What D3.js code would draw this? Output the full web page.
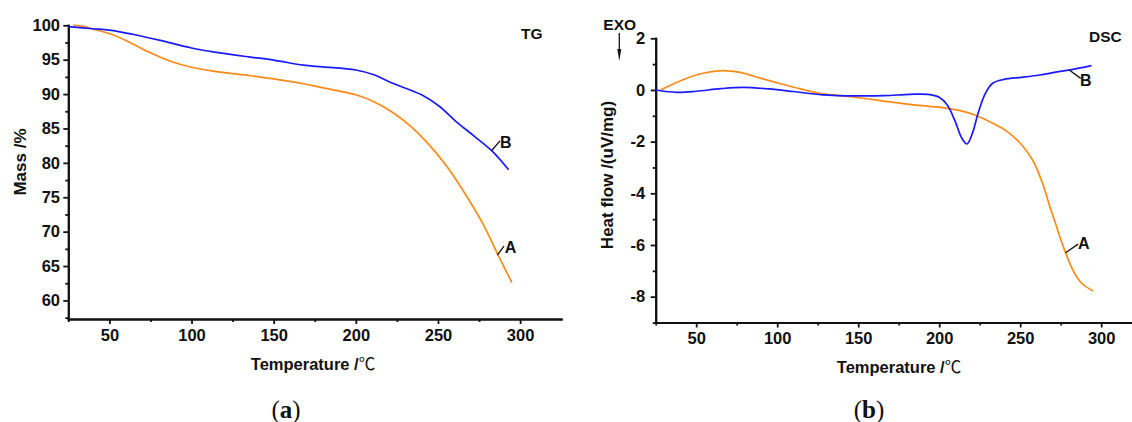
<!DOCTYPE html>
<html>
<head>
<meta charset="utf-8">
<script src="https://cdnjs.cloudflare.com/ajax/libs/d3/7.8.5/d3.min.js"></script>
<style>
  body { margin: 0; background: #fff; }
  svg text { font-family: "Liberation Sans", Arial, sans-serif; font-weight: bold; fill: #111; }
</style>
</head>
<body>
<script>
// Tick values shared by both panels
var xTicks = [50, 100, 150, 200, 250, 300],
    xMinor = [25, 75, 125, 175, 225, 275],
    tgTicks = [60, 65, 70, 75, 80, 85, 90, 95, 100],
    tgMinor = [57.5, 62.5, 67.5, 72.5, 77.5, 82.5, 87.5, 92.5, 97.5],
    dscTicks = [-8, -6, -4, -2, 0, 2],
    dscMinor = [-9, -7, -5, -3, -1, 1];

// TG curves (temperature in degC, mass in %)
var tgTempA = [28, 35, 40, 50, 60, 75, 88, 100, 114, 135, 150, 168, 180, 200, 211, 222, 233, 244, 255, 266, 277, 287, 295],
    tgMassA = [100.0, 99.8, 99.45, 98.8, 97.8, 96.0, 94.7, 93.9, 93.3, 92.7, 92.2, 91.5, 90.9, 89.9, 88.9, 87.4, 85.4, 82.8, 79.6, 75.7, 71.3, 66.4, 62.6];
var tgTempB = [25, 40, 50, 64, 81, 100, 114, 135, 150, 168, 180, 200, 211, 222, 240, 251, 261, 272, 283, 293],
    tgMassB = [99.8, 99.5, 99.3, 98.7, 97.8, 96.7, 96.1, 95.4, 94.95, 94.2, 93.95, 93.5, 92.8, 91.6, 89.9, 88.2, 86.0, 83.9, 81.7, 79.0];

// DSC curves (temperature in degC, heat flow in uV/mg)
var dscTempA = [28, 39, 50, 66, 77, 90, 101, 115, 128, 141, 153, 168, 184, 202, 213, 222, 233, 242, 251, 258, 264, 268, 272, 276.6, 283, 288, 295],
    dscFlowA = [0, 0.32, 0.58, 0.75, 0.68, 0.45, 0.26, 0.03, -0.15, -0.23, -0.32, -0.45, -0.58, -0.68, -0.8, -0.97, -1.29, -1.61, -2.13, -2.75, -3.65, -4.45, -5.2, -6.06, -7.03, -7.48, -7.78];
var dscTempB = [25, 38, 50, 65, 79, 95, 110, 128, 150, 166, 182, 193, 200, 205, 209.5, 214, 217.2, 220.5, 224, 228.5, 233, 240, 251, 262, 272, 281, 294],
    dscFlowB = [0, -0.09, -0.05, 0.05, 0.1, 0.04, -0.06, -0.19, -0.23, -0.22, -0.17, -0.17, -0.28, -0.58, -1.16, -1.87, -2.09, -1.68, -0.9, -0.13, 0.26, 0.41, 0.49, 0.58, 0.69, 0.78, 0.94];

var colorA = "#ff8a16", colorB = "#1a1aff";

var svg = d3.select("body").append("svg")
            .attr("width", 1132)
            .attr("height", 422);

// Scales for the two panels
var xL = d3.scaleLinear().domain([25, 325]).range([68.3, 561.2]),
    yL = d3.scaleLinear().domain([57.3, 100]).range([319, 25.3]),
    xR = d3.scaleLinear().domain([25, 325]).range([655.7, 1141.7]),
    yR = d3.scaleLinear().domain([-9, 2]).range([322.5, 38.3]);

function drawAxes(x, y, yTicks, yMinor, yPad) {
  var g = svg.append("g");
  var base = y.range()[0], left = x.range()[0];

  g.append("g")
   .attr("transform", "translate(0," + base + ")")
   .call(d3.axisBottom(x).tickValues(xMinor).tickSize(3).tickFormat("").tickSizeOuter(0));
  g.append("g")
   .attr("transform", "translate(0," + base + ")")
   .call(d3.axisBottom(x).tickValues(xTicks).tickSize(5).tickPadding(5).tickSizeOuter(0));
  g.append("g")
   .attr("transform", "translate(" + left + ",0)")
   .call(d3.axisLeft(y).tickValues(yMinor).tickSize(3).tickFormat("").tickSizeOuter(0));
  g.append("g")
   .attr("transform", "translate(" + left + ",0)")
   .call(d3.axisLeft(y).tickValues(yTicks).tickSize(5).tickPadding(yPad).tickSizeOuter(0)
           .tickFormat(function(d) { return String(d); }));

  g.selectAll("g").attr("font-size", null).attr("font-family", null);
  g.selectAll("text").style("font-size", "16.5px");
  g.selectAll(".domain").attr("stroke", "#111").attr("stroke-width", 2).attr("stroke-linecap", "square");
  g.selectAll(".tick line").attr("stroke", "#111").attr("stroke-width", 1.8);
}

function drawCurve(x, y, temps, vals, color) {
  var line = d3.line()
               .x(function(d) { return x(d[0]); })
               .y(function(d) { return y(d[1]); })
               .curve(d3.curveCatmullRom.alpha(0.5));
  svg.append("path")
     .datum(d3.zip(temps, vals))
     .attr("fill", "none")
     .attr("stroke", color)
     .attr("stroke-width", 1.7)
     .attr("d", line);
}

function curveLabel(x, y, t, v, name, lx, ly, tx, ty) {
  var px = x(t), py = y(v);
  svg.append("line")
     .attr("x1", px).attr("y1", py)
     .attr("x2", px + lx).attr("y2", py + ly)
     .attr("stroke", "#111").attr("stroke-width", 1.3);
  svg.append("text")
     .attr("x", px + tx).attr("y", py + ty)
     .style("font-size", "16px")
     .text(name);
}

// Panel (a): TG
drawAxes(xL, yL, tgTicks, tgMinor, 3.3);
drawCurve(xL, yL, tgTempA, tgMassA, colorA);
drawCurve(xL, yL, tgTempB, tgMassB, colorB);
curveLabel(xL, yL, 282.7, 81.8, "B", 8.3, -9.6, 8.3, -2);
curveLabel(xL, yL, 286.1, 66.6, "A", 6.7, -9, 7.5, -1.6);

svg.append("text").attr("x", 521).attr("y", 39).style("font-size", "15.5px").text("TG");
svg.append("text")
   .attr("transform", "translate(25.7,162) rotate(-90)")
   .attr("text-anchor", "middle")
   .style("font-size", "17px")
   .text("Mass /%");
var tl = svg.append("text").attr("x", 313).attr("y", 370).attr("text-anchor", "middle").style("font-size", "16.5px");
tl.append("tspan").text("Temperature /");
tl.append("tspan").style("font-weight", "normal").style("font-family", "'Noto Sans CJK SC'").text("\u2103");

var pa = svg.append("text").attr("x", 286).attr("y", 418).attr("text-anchor", "middle")
            .style("font-family", "'Liberation Serif', serif").style("font-weight", "normal").style("font-size", "25px");
pa.append("tspan").text("(");
pa.append("tspan").style("font-weight", "bold").text("a");
pa.append("tspan").text(")");

// Panel (b): DSC
drawAxes(xR, yR, dscTicks, dscMinor, 5.5);
drawCurve(xR, yR, dscTempA, dscFlowA, colorA);
drawCurve(xR, yR, dscTempB, dscFlowB, colorB);
curveLabel(xR, yR, 280.3, 0.77, "B", 11.4, 8.3, 10.7, 15.7);
curveLabel(xR, yR, 278, -6.3, "A", 12.6, -8.6, 12.4, -4);

svg.append("text").attr("x", 1089).attr("y", 42).style("font-size", "15.5px").text("DSC");
svg.append("text").attr("x", 603.3).attr("y", 30).style("font-size", "15.5px").text("EXO");
svg.append("line")
   .attr("x1", 619.3).attr("y1", 33).attr("x2", 619.3).attr("y2", 52)
   .attr("stroke", "#111").attr("stroke-width", 1.3);
svg.append("path")
   .attr("d", "M617.3,49 L621.3,49 L619.3,61 Z")
   .attr("fill", "#111");
svg.append("text")
   .attr("transform", "translate(613,175) rotate(-90)")
   .attr("text-anchor", "middle")
   .style("font-size", "17px")
   .text("Heat flow /(uV/mg)");
var tr = svg.append("text").attr("x", 899).attr("y", 373).attr("text-anchor", "middle").style("font-size", "16.5px");
tr.append("tspan").text("Temperature /");
tr.append("tspan").style("font-weight", "normal").style("font-family", "'Noto Sans CJK SC'").text("\u2103");

var pb = svg.append("text").attr("x", 869).attr("y", 418).attr("text-anchor", "middle")
            .style("font-family", "'Liberation Serif', serif").style("font-weight", "normal").style("font-size", "25px");
pb.append("tspan").text("(");
pb.append("tspan").style("font-weight", "bold").text("b");
pb.append("tspan").text(")");
</script>
</body>
</html>
